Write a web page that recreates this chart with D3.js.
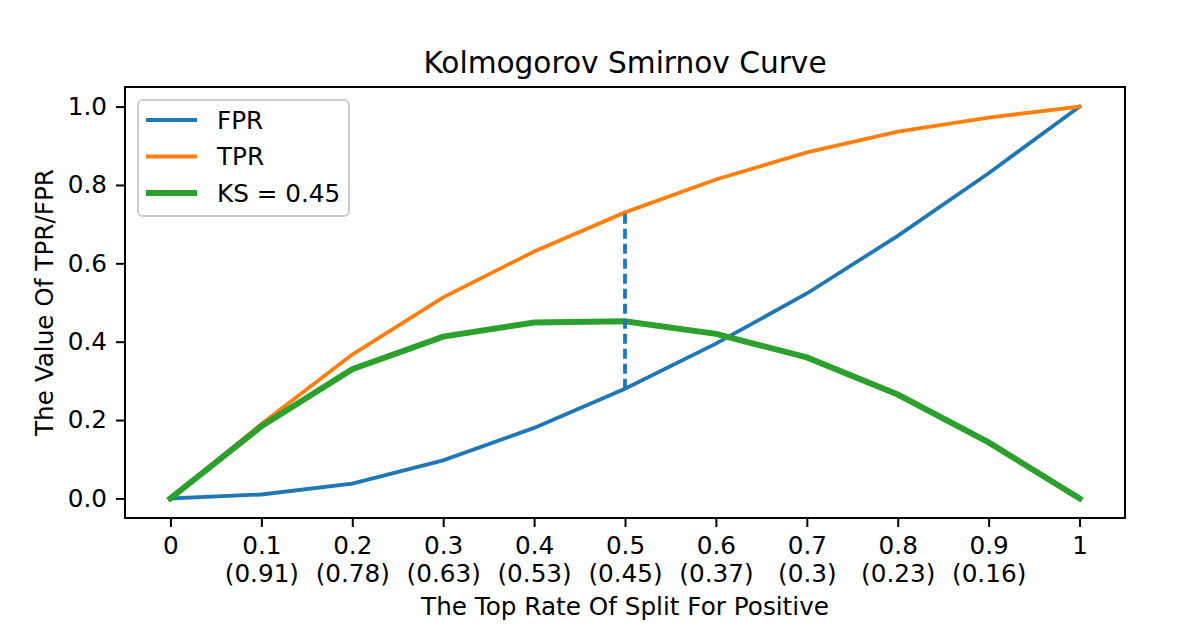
<!DOCTYPE html>
<html>
<head>
<meta charset="utf-8">
<script src="https://cdn.jsdelivr.net/npm/d3@7"></script>
<style>
  body { margin: 0; background: #fff; }
  svg { font-family: "DejaVu Sans", sans-serif; }
</style>
</head>
<body>
<svg id="ks-chart"></svg>
<script>
// top split rates and their score thresholds
const splitRates = [0, 0.1, 0.2, 0.3, 0.4, 0.5, 0.6, 0.7, 0.8, 0.9, 1];
const thresholds = [null, 0.91, 0.78, 0.63, 0.53, 0.45, 0.37, 0.3, 0.23, 0.16, null];
const fpr = [0, 0.01, 0.038, 0.097, 0.18, 0.28, 0.395, 0.523, 0.67, 0.83, 1.0];
const tpr = [0, 0.19, 0.367, 0.513, 0.63, 0.73, 0.814, 0.883, 0.936, 0.972, 1.0];
const ks = [0, 0.184, 0.33, 0.413, 0.449, 0.452, 0.42, 0.36, 0.265, 0.143, 0];
const ksIndex = 5;
const yTicks = [0, 0.2, 0.4, 0.6, 0.8, 1.0];

const W = 1198, H = 631;
const margin = { top: 87, right: 73, bottom: 113, left: 125 };
const width = W - margin.left - margin.right;
const height = H - margin.top - margin.bottom;

const svg = d3.select("#ks-chart").attr("width", W).attr("height", H);
const chart = svg.append("g").attr("transform", `translate(${margin.left},${margin.top})`);

const x = d3.scaleLinear().domain([-0.05, 1.05]).range([0, width]);
const y = d3.scaleLinear().domain([-0.05, 1.05]).range([height, 0]);

const fontSize = 24.7;

// axes
const xAxis = chart.append("g")
    .attr("transform", `translate(0,${height})`)
    .call(d3.axisBottom(x).tickValues(splitRates).tickSize(9).tickSizeOuter(0).tickPadding(9)
        .tickFormat(d => d3.format("~g")(d)));
xAxis.select(".domain").remove();
xAxis.selectAll("text").each(function(d, i) {
    const t = d3.select(this).text("");
    t.append("tspan").attr("x", 0).attr("dy", "0.71em").text(d3.format("~g")(d));
    if (thresholds[i] !== null)
        t.append("tspan").attr("x", 0).attr("dy", "1.15em").text(`(${thresholds[i]})`);
});

const yAxis = chart.append("g")
    .call(d3.axisLeft(y).tickValues(yTicks).tickSize(9).tickSizeOuter(0).tickPadding(9)
        .tickFormat(d3.format(".1f")));
yAxis.select(".domain").remove();

chart.selectAll(".tick line").attr("stroke", "#000").attr("stroke-width", 2);
chart.selectAll(".tick text").attr("fill", "#000").style("font-size", fontSize + "px")
    .style("font-family", "DejaVu Sans");

// lines
const line = vals => d3.line().x((d, i) => x(splitRates[i])).y(d => y(d))(vals);

chart.append("path").attr("d", line(fpr)).attr("fill", "none")
    .attr("stroke", "#1f77b4").attr("stroke-width", 3.8).attr("stroke-linecap", "square");
chart.append("path").attr("d", line(tpr)).attr("fill", "none")
    .attr("stroke", "#ff7f0e").attr("stroke-width", 3.8).attr("stroke-linecap", "square");
chart.append("path").attr("d", line(ks)).attr("fill", "none")
    .attr("stroke", "#2ca02c").attr("stroke-width", 6).attr("stroke-linecap", "square");

// KS marker
chart.append("line")
    .attr("x1", x(splitRates[ksIndex])).attr("x2", x(splitRates[ksIndex]))
    .attr("y1", y(fpr[ksIndex])).attr("y2", y(tpr[ksIndex]))
    .attr("stroke", "#1f77b4").attr("stroke-width", 3.8)
    .attr("stroke-dasharray", "10,5");

// frame
chart.append("rect").attr("width", width).attr("height", height)
    .attr("fill", "none").attr("stroke", "#000").attr("stroke-width", 2);

// legend
const legendItems = [
    { label: "FPR", color: "#1f77b4", w: 3.8 },
    { label: "TPR", color: "#ff7f0e", w: 3.8 },
    { label: `KS = ${ks[ksIndex].toFixed(2)}`, color: "#2ca02c", w: 6 }
];
const legend = chart.append("g").attr("transform", "translate(13,13)");
legend.append("rect").attr("width", 211).attr("height", 116).attr("rx", 5)
    .attr("fill", "#fff").attr("fill-opacity", 0.8)
    .attr("stroke", "#ccc").attr("stroke-width", 2);
legendItems.forEach((d, i) => {
    const yy = 20 + i * 36.5;
    legend.append("line").attr("x1", 8).attr("x2", 59).attr("y1", yy).attr("y2", yy)
        .attr("stroke", d.color).attr("stroke-width", d.w);
    legend.append("text").attr("x", 79).attr("y", yy).attr("dy", "0.36em")
        .style("font-size", fontSize + "px").text(d.label);
});

// titles
svg.append("text").attr("x", margin.left + width / 2).attr("y", 73)
    .attr("text-anchor", "middle").style("font-size", "29.6px").text("Kolmogorov Smirnov Curve");
svg.append("text").attr("x", margin.left + width / 2).attr("y", 615)
    .attr("text-anchor", "middle").style("font-size", fontSize + "px").text("The Top Rate Of Split For Positive");
svg.append("text").attr("transform", `translate(53,${margin.top + height / 2}) rotate(-90)`)
    .attr("text-anchor", "middle").style("font-size", fontSize + "px").text("The Value Of TPR/FPR");
</script>
</body>
</html>
